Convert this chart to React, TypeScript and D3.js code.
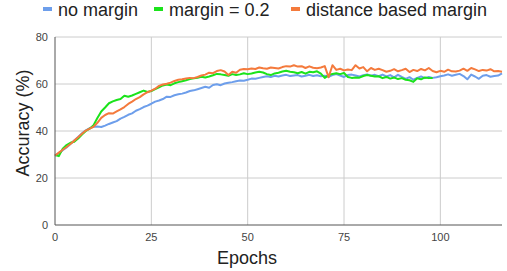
import { useEffect, useRef } from 'react';
import * as d3 from 'd3';

// accuracy per epoch
const noMargin = [
  29.5, 30.5, 31.8, 33, 34.5, 36, 37.5, 39, 40.3, 41.2, 41.8, 41.9, 41.7, 42.3, 43.0, 43.6, 44.2, 45.3, 46.0, 46.9,
  47.5, 48.6, 49.3, 50.2, 50.8, 51.6, 52.5, 53.0, 53.6, 54.6, 54.5, 55.2, 55.6, 55.9, 56.4, 57.0, 57.3, 57.8, 58.3, 58.8,
  58.4, 59.6, 59.9, 59.5, 60.2, 60.5, 60.8, 61.2, 61.5, 61.4, 61.8, 62.3, 62.2, 62.6, 63.0, 63.3, 63.0, 63.5, 63.2, 63.6,
  63.9, 63.4, 63.6, 63.8, 63.2, 63.5, 63.9, 63.4, 63.7, 63.3, 63.5, 63.1, 63.8, 64.2, 63.6, 63.0, 63.8, 64.0, 63.6, 63.2,
  63.7, 64.1, 63.5, 63.9, 63.3, 64.0, 63.2, 63.8, 62.8, 63.9, 63.0, 62.2, 62.9, 61.8, 62.6, 63.2, 62.5, 63.0, 62.6, 62.9,
  63.3, 63.6, 64.1, 63.5, 63.9, 64.3, 63.4, 62.0, 64.0, 63.2, 62.2, 63.5, 63.8, 63.1, 63.4, 63.6, 64.5,
];
const margin02 = [
  29.8, 29.3, 32.5, 34.0, 35.0, 35.4, 36.8, 38.5, 40.0, 41.0, 42.5, 45.5, 48.3, 50.0, 51.8, 52.6, 53.2, 53.6, 55.0, 54.6,
  55.1, 55.8, 56.5, 57.2, 56.6, 57.0, 57.8, 58.6, 59.4, 59.8, 59.5, 60.3, 60.8, 61.2, 61.6, 62.1, 62.4, 62.7, 63.1, 62.8,
  63.2, 63.7, 64.3, 64.1, 63.8, 63.5, 64.2, 63.8, 64.1, 64.6, 64.2, 64.5, 64.9, 65.2, 64.9, 64.2, 63.8, 64.5, 64.8, 65.3,
  65.6, 65.2, 65.0, 64.6, 65.1, 64.4, 65.2, 65.0, 65.4, 64.4, 62.6, 63.8, 64.3, 64.6, 64.2, 64.7, 63.0, 62.6, 62.8, 62.7,
  63.4, 63.8, 63.5, 63.2, 63.3, 62.5, 63.0, 62.3, 62.8, 62.1, 62.5, 61.8, 61.6, 60.9, 62.4, 62.0, 62.8, 62.5, 62.6,
];
const distanceMargin = [
  29.6, 30.8, 32.0, 33.2, 34.5, 35.9, 37.3, 38.8, 40.2, 41.0, 41.8, 43.5, 45.6, 46.8, 47.6, 47.4, 48.3, 49.2, 50.2, 51.5,
  52.5, 53.6, 54.4, 55.6, 56.5, 57.2, 58.0, 59.2, 59.8, 60.1, 60.6, 61.3, 61.8, 62.0, 62.3, 62.6, 62.5, 63.0, 63.6, 64.0,
  64.8, 64.6, 65.5, 65.9, 65.3, 63.8, 65.2, 64.8, 66.1, 66.4, 66.3, 66.6, 66.4, 67.0, 66.7, 66.5, 67.0, 66.8, 66.6, 67.2,
  67.6, 67.4, 68.0, 67.4, 67.6, 66.8, 67.5, 66.9, 66.7, 67.0, 67.6, 62.9, 68.0, 66.0, 66.5, 65.8, 66.2, 65.9, 68.0, 66.6,
  67.2, 65.4, 66.8, 66.0, 66.5, 65.9, 65.2, 65.6, 66.3, 65.4, 65.9, 66.5, 65.1, 66.0, 65.5, 66.4, 65.8, 66.8, 65.5, 65.0,
  65.6, 65.2, 66.1, 65.4, 65.3, 65.7, 66.5, 65.6, 66.8, 66.2, 65.5, 66.0, 65.7, 66.3, 65.4, 65.5, 65.2,
];

const seriesNames = ['no margin', 'margin = 0.2', 'distance based margin'];
const seriesColors = ['#6d9eeb', '#1be31b', '#f47a3c'];
const xTicks = [0, 25, 50, 75, 100];
const yTicks = [0, 20, 40, 60, 80];

export default function App() {
  const svgRef = useRef<SVGSVGElement | null>(null);

  useEffect(() => {
    const svg = d3.select(svgRef.current);
    svg.selectAll('*').remove();

    const width = 507;
    const height = 271;
    const m = { left: 55, right: 5, top: 37, bottom: 46 };

    const x = d3.scaleLinear().domain([0, 116]).range([m.left, width - m.right]);
    const y = d3.scaleLinear().domain([0, 80]).range([height - m.bottom, m.top]);

    const font = 'Arial, "Liberation Sans", sans-serif';

    // grid
    const grid = svg.append('g');
    grid.selectAll('line.h')
      .data(yTicks.filter(t => t > 0))
      .join('line')
      .attr('x1', m.left).attr('x2', width - m.right)
      .attr('y1', d => y(d)).attr('y2', d => y(d))
      .attr('stroke', '#cccccc').attr('stroke-width', 1);
    grid.selectAll('line.v')
      .data(xTicks.filter(t => t > 0))
      .join('line')
      .attr('x1', d => x(d)).attr('x2', d => x(d))
      .attr('y1', m.top).attr('y2', height - m.bottom)
      .attr('stroke', '#cccccc').attr('stroke-width', 1);

    // tick labels
    svg.append('g').selectAll('text')
      .data(yTicks)
      .join('text')
      .attr('x', m.left - 7)
      .attr('y', d => y(d) + 4)
      .attr('text-anchor', 'end')
      .style('font-family', font).style('font-size', '11px').style('fill', '#444')
      .text(d => d);
    svg.append('g').selectAll('text')
      .data(xTicks)
      .join('text')
      .attr('x', d => x(d))
      .attr('y', height - m.bottom + 16)
      .attr('text-anchor', 'middle')
      .style('font-family', font).style('font-size', '11px').style('fill', '#444')
      .text(d => d);

    // lines
    const all = [noMargin, margin02, distanceMargin];
    const line = d3.line<number>().x((_, i) => x(i)).y(d => y(d));
    svg.append('g').selectAll('path')
      .data(all)
      .join('path')
      .attr('d', d => line(d))
      .attr('fill', 'none')
      .attr('stroke', (_, i) => seriesColors[i])
      .attr('stroke-width', 2)
      .attr('stroke-linejoin', 'round');

    // axis lines
    svg.append('line')
      .attr('x1', m.left).attr('x2', m.left)
      .attr('y1', m.top).attr('y2', height - m.bottom)
      .attr('stroke', '#555').attr('stroke-width', 1);
    svg.append('line')
      .attr('x1', m.left).attr('x2', width - m.right)
      .attr('y1', height - m.bottom).attr('y2', height - m.bottom)
      .attr('stroke', '#555').attr('stroke-width', 1);

    // titles
    svg.append('text')
      .attr('x', 247).attr('y', 264)
      .attr('text-anchor', 'middle')
      .style('font-family', font).style('font-size', '18px').style('fill', '#222')
      .text('Epochs');
    svg.append('text')
      .attr('transform', `translate(29, ${123}) rotate(-90)`)
      .attr('text-anchor', 'middle')
      .style('font-family', font).style('font-size', '18px').style('fill', '#222')
      .text('Accuracy (%)');

    // legend
    const legendX = [43, 154, 291];
    const lg = svg.append('g').selectAll('g')
      .data(seriesNames)
      .join('g')
      .attr('transform', (_, i) => `translate(${legendX[i]}, 0)`);
    lg.append('rect')
      .attr('x', 0).attr('y', 7).attr('width', 9).attr('height', 4)
      .attr('fill', (_, i) => seriesColors[i]);
    lg.append('text')
      .attr('x', 15).attr('y', 16)
      .style('font-family', font).style('font-size', '18px').style('fill', '#222')
      .text(d => d);
  }, []);

  return (
    <div style={{ position: 'absolute', left: 0, top: 0, width: 507, height: 271 }}>
      <svg ref={svgRef} width={507} height={271} style={{ display: 'block' }} />
    </div>
  );
}
